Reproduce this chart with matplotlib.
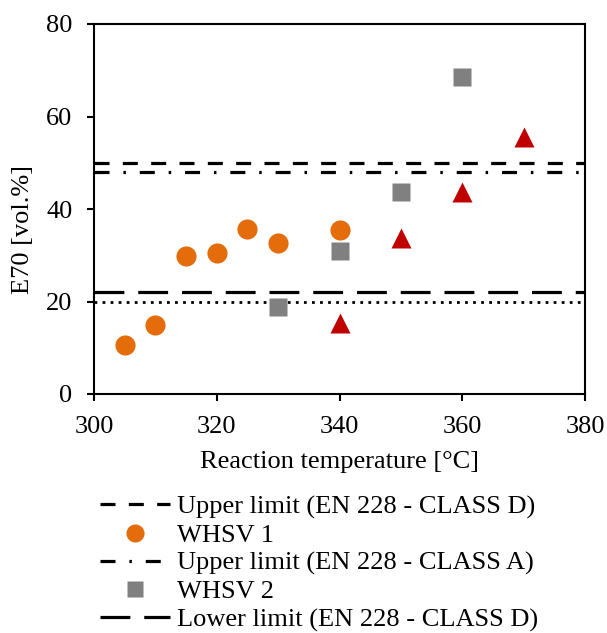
import matplotlib
matplotlib.use("Agg")
import matplotlib.pyplot as plt

plt.rcParams['font.family'] = ['Liberation Serif', 'DejaVu Serif']
plt.rcParams['lines.scale_dashes'] = False

# Data
whsv1_temp = [305, 310, 315, 320, 325, 330, 340]
whsv1_e70 = [10.6, 14.9, 29.8, 30.5, 35.7, 32.6, 35.5]
whsv2_temp = [330, 340, 350, 360]
whsv2_e70 = [18.8, 30.9, 43.7, 68.5]
whsv3_temp = [340, 350, 360, 370]
whsv3_e70 = [15.4, 33.7, 43.7, 55.6]

upper_d = 50
upper_a = 48
lower_d = 22
lower_a = 20

x_ticks = [300, 320, 340, 360, 380]
y_ticks = [0, 20, 40, 60, 80]

FS = 19

fig = plt.figure(figsize=(6.07, 6.33), dpi=100)
ax = fig.add_axes([94/607, 1-394/633, (585-94)/607, (394-24)/633])

lw = 2.3
h_ud, = ax.plot([300, 380], [upper_d]*2, color='black', lw=lw, dashes=(10.8, 9.6),
                label='Upper limit (EN 228 - CLASS D)')
h_ua, = ax.plot([300, 380], [upper_a]*2, color='black', lw=lw, dashes=(10.8, 10, 1.8, 10),
                label='Upper limit (EN 228 - CLASS A)')
h_ld, = ax.plot([300, 380], [lower_d]*2, color='black', lw=lw, dashes=(21.5, 10),
                label='Lower limit (EN 228 - CLASS D)')
h_la, = ax.plot([300, 380], [lower_a]*2, color='black', lw=2.0, dashes=(2, 3.8),
                label='Lower limit (EN 228 - CLASS A)')

ms = 14.5
h1, = ax.plot(whsv1_temp, whsv1_e70, 'o', color='#E46C0A', ms=ms, mec='none', label='WHSV 1')
h2, = ax.plot(whsv2_temp, whsv2_e70, 's', color='#808080', ms=ms-1, mec='none', label='WHSV 2')
h3, = ax.plot(whsv3_temp, whsv3_e70, '^', color='#C00000', ms=ms, mec='none', label='WHSV 3')

ax.set_xlim(300, 380)
ax.set_ylim(0, 80)
ax.set_xticks(x_ticks)
ax.set_yticks(y_ticks)
ax.tick_params(direction='out', length=5, width=1.5, labelsize=FS, pad=10.5)
for s in ax.spines.values():
    s.set_linewidth(1.5)

ax.set_xlabel('Reaction temperature [°C]', fontsize=FS, labelpad=10)
fig.text(23/607, 1-229/633, 'E70 [vol.%]', rotation=90, ha='center', va='center', fontsize=FS)

leg = fig.legend(handles=[h_ud, h1, h_ua, h2, h_ld],
                 loc='upper left', bbox_to_anchor=(100/607, 1-495/633),
                 frameon=False, fontsize=FS, borderpad=0, borderaxespad=0,
                 handlelength=2.64, handletextpad=0.26, labelspacing=0.17,
                 markerscale=0.9)

fig.savefig('out.png', dpi=100)
